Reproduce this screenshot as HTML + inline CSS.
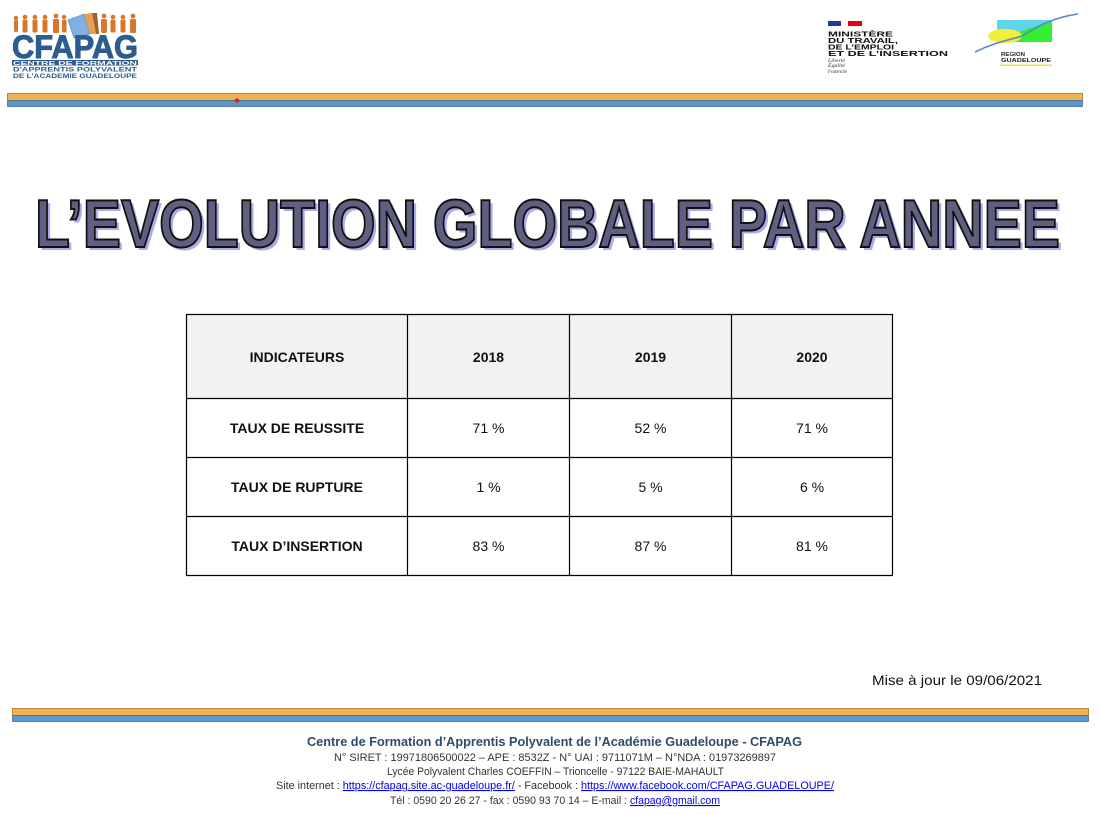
<!DOCTYPE html>
<html>
<head>
<meta charset="utf-8">
<style>
html,body{margin:0;padding:0;background:#fff;}
body{width:1100px;height:815px;position:relative;overflow:hidden;font-family:"Liberation Sans",sans-serif;}
svg{position:absolute;left:0;top:0;}
</style>
</head>
<body>
<svg width="1100" height="815" viewBox="0 0 1100 815" xmlns="http://www.w3.org/2000/svg" font-family="Liberation Sans, sans-serif">
  <!-- ===== CFAPAG logo ===== -->
  <g fill="#d8772c">
    <circle cx="16" cy="18" r="2.2"/><rect x="14" y="20" width="4" height="12" rx="1.5"/>
    <circle cx="25" cy="17" r="2.3"/><rect x="22.5" y="19.5" width="5" height="13" rx="1.5"/>
    <circle cx="35" cy="17" r="2.3"/><rect x="32.5" y="19.5" width="5" height="13" rx="1.5"/>
    <circle cx="45" cy="17" r="2.3"/><rect x="42.5" y="19.5" width="5" height="13" rx="1.5"/>
    <circle cx="56" cy="16" r="2.4"/><rect x="53" y="19" width="6" height="14" rx="1.5"/>
    <circle cx="64" cy="17" r="2.2"/><rect x="62" y="19.5" width="4.5" height="13" rx="1.5"/>
    <circle cx="104" cy="16" r="2.4"/><rect x="101" y="19" width="6" height="14" rx="1.5"/>
    <circle cx="113" cy="17" r="2.3"/><rect x="110.5" y="19.5" width="5" height="13" rx="1.5"/>
    <circle cx="123" cy="17" r="2.3"/><rect x="120.5" y="19.5" width="5" height="13" rx="1.5"/>
    <circle cx="133" cy="16" r="2.4"/><rect x="130" y="19" width="6" height="14" rx="1.5"/>
  </g>
  <g>
    <polygon points="68,20 84,14 90,34 74,38" fill="#7fb1e3" stroke="#4a7fb5" stroke-width="0.6"/>
    <polygon points="84,14 92,13 96,34 90,34" fill="#e8a050"/>
    <polygon points="92,13 97,13 99,34 96,34" fill="#a0622a"/>
  </g>
  <text x="12" y="58" font-size="32" font-weight="bold" fill="#2c5d8e" stroke="#2c5d8e" stroke-width="1" textLength="126" lengthAdjust="spacingAndGlyphs">CFAPAG</text>
  <rect x="12" y="60" width="126" height="5.5" fill="#2c5d8e"/>
  <text x="13" y="65" font-size="5.5" font-weight="bold" fill="#fff" textLength="124" lengthAdjust="spacingAndGlyphs">CENTRE DE FORMATION</text>
  <text x="13" y="71.5" font-size="6" font-weight="bold" fill="#2c5d8e" textLength="124" lengthAdjust="spacingAndGlyphs">D'APPRENTIS POLYVALENT</text>
  <text x="13" y="78" font-size="6" font-weight="bold" fill="#2c5d8e" textLength="124" lengthAdjust="spacingAndGlyphs">DE L'ACADEMIE GUADELOUPE</text>

  <!-- ===== Ministry logo ===== -->
  <rect x="828" y="21" width="13" height="5" fill="#1f3c9c"/>
  <rect x="848" y="21" width="14" height="5" fill="#e1000f"/>
  <g font-size="7.5" font-weight="bold" fill="#111">
    <text x="828" y="36.5" textLength="65" lengthAdjust="spacingAndGlyphs">MINISTÈRE</text>
    <text x="828" y="43" textLength="70" lengthAdjust="spacingAndGlyphs">DU TRAVAIL,</text>
    <text x="828" y="49.5" textLength="66" lengthAdjust="spacingAndGlyphs">DE L’EMPLOI</text>
    <text x="828" y="56" textLength="120" lengthAdjust="spacingAndGlyphs">ET DE L’INSERTION</text>
  </g>
  <g font-family="Liberation Serif, serif" font-style="italic" font-size="5" fill="#333">
    <text x="828" y="62" textLength="17" lengthAdjust="spacingAndGlyphs">Liberté</text>
    <text x="828" y="67" textLength="17" lengthAdjust="spacingAndGlyphs">Égalité</text>
    <text x="828" y="73" textLength="19" lengthAdjust="spacingAndGlyphs">Fraternité</text>
  </g>

  <!-- ===== Region logo ===== -->
  <rect x="997" y="20" width="55" height="22" fill="#33ee33"/>
  <polygon points="997,20 1052,20 1052,22 1030,28 1015,34 997,34" fill="#5fd5e8"/>
  <ellipse cx="1005" cy="36" rx="17" ry="7" fill="#f2ee3a"/>
  <path d="M975,52 C995,42 1010,40 1022,36 C1035,28 1050,18 1078,14" fill="none" stroke="#5b86c8" stroke-width="1.6"/>
  <text x="1001" y="56" font-size="5.5" font-weight="bold" fill="#222" textLength="24" lengthAdjust="spacingAndGlyphs">REGION</text>
  <text x="1001" y="62" font-size="5.5" font-weight="bold" fill="#222" textLength="50" lengthAdjust="spacingAndGlyphs">GUADELOUPE</text>
  <rect x="1000" y="64.5" width="52" height="1.5" fill="#f2e040"/>

  <!-- ===== Top bar ===== -->
  <rect x="7.5" y="93.5" width="1075" height="7" fill="#f0b252" stroke="#b58a3c" stroke-width="1"/>
  <rect x="7.5" y="100.5" width="1075" height="6" fill="#5b97d0" stroke="#4a6f94" stroke-width="0.8"/>
  <circle cx="237" cy="100.5" r="2.2" fill="#e02020"/>

  <!-- ===== Title ===== -->
  <text x="38" y="250" font-size="68" font-weight="bold" fill="#aaaaee" textLength="1025" lengthAdjust="spacingAndGlyphs">L’EVOLUTION GLOBALE PAR ANNEE</text>
  <text x="35" y="247" font-size="68" font-weight="bold" fill="#5f5f80" stroke="#111" stroke-width="2" textLength="1025" lengthAdjust="spacingAndGlyphs">L’EVOLUTION GLOBALE PAR ANNEE</text>

  <!-- ===== Table ===== -->
  <rect x="186.5" y="314.5" width="706" height="84" fill="#f2f2f2"/>
  <g stroke="#000" stroke-width="1.2" fill="none">
    <line x1="186.5" y1="314.5" x2="893" y2="314.5"/>
    <line x1="186.5" y1="398.5" x2="893" y2="398.5"/>
    <line x1="186.5" y1="457.5" x2="893" y2="457.5"/>
    <line x1="186.5" y1="516.5" x2="893" y2="516.5"/>
    <line x1="186.5" y1="575.5" x2="893" y2="575.5"/>
    <line x1="186.5" y1="314" x2="186.5" y2="576"/>
    <line x1="407.5" y1="314" x2="407.5" y2="576"/>
    <line x1="569.5" y1="314" x2="569.5" y2="576"/>
    <line x1="731.5" y1="314" x2="731.5" y2="576"/>
    <line x1="892.5" y1="314" x2="892.5" y2="576"/>
  </g>
  <g font-size="14" font-weight="bold" fill="#111" text-anchor="middle">
    <text x="297" y="362">INDICATEURS</text>
    <text x="488.5" y="362">2018</text>
    <text x="650.5" y="362">2019</text>
    <text x="812" y="362">2020</text>
    <text x="297" y="433">TAUX DE REUSSITE</text>
    <text x="297" y="492">TAUX DE RUPTURE</text>
    <text x="297" y="551">TAUX D’INSERTION</text>
  </g>
  <g font-size="14" fill="#111" text-anchor="middle">
    <text x="488.5" y="433">71 %</text>
    <text x="650.5" y="433">52 %</text>
    <text x="812" y="433">71 %</text>
    <text x="488.5" y="492">1 %</text>
    <text x="650.5" y="492">5 %</text>
    <text x="812" y="492">6 %</text>
    <text x="488.5" y="551">83 %</text>
    <text x="650.5" y="551">87 %</text>
    <text x="812" y="551">81 %</text>
  </g>

  <!-- ===== Update date ===== -->
  <text x="872" y="685" font-size="14" fill="#111" textLength="170" lengthAdjust="spacingAndGlyphs">Mise à jour le 09/06/2021</text>

  <!-- ===== Bottom bar ===== -->
  <rect x="12.5" y="708.5" width="1076" height="7" fill="#f0b252" stroke="#b58a3c" stroke-width="1"/>
  <rect x="12.5" y="715.5" width="1076" height="6" fill="#5b97d0" stroke="#4a6f94" stroke-width="0.8"/>

  <!-- ===== Footer ===== -->
  <text x="307" y="746" font-size="13" font-weight="bold" fill="#2f4b6c" textLength="495" lengthAdjust="spacingAndGlyphs">Centre de Formation d’Apprentis Polyvalent de l’Académie Guadeloupe - CFAPAG</text>
  <text x="334" y="761" font-size="11" fill="#333" textLength="442" lengthAdjust="spacingAndGlyphs">N° SIRET : 19971806500022 – APE : 8532Z - N° UAI : 9711071M – N°NDA : 01973269897</text>
  <text x="387" y="775" font-size="11" fill="#333" textLength="337" lengthAdjust="spacingAndGlyphs">Lycée Polyvalent Charles COEFFIN – Trioncelle  - 97122 BAIE-MAHAULT</text>
  <text x="276" y="789" font-size="11" fill="#333" textLength="558" lengthAdjust="spacingAndGlyphs">Site internet : <tspan fill="#0000ee" text-decoration="underline">https://cfapag.site.ac-guadeloupe.fr/</tspan> - Facebook : <tspan fill="#0000ee" text-decoration="underline">https://www.facebook.com/CFAPAG.GUADELOUPE/</tspan></text>
  <text x="390" y="804" font-size="11" fill="#333" textLength="330" lengthAdjust="spacingAndGlyphs">Tél : 0590 20 26 27 - fax : 0590 93 70 14 – E-mail : <tspan fill="#0000ee" text-decoration="underline">cfapag@gmail.com</tspan></text>
</svg>
</body>
</html>
